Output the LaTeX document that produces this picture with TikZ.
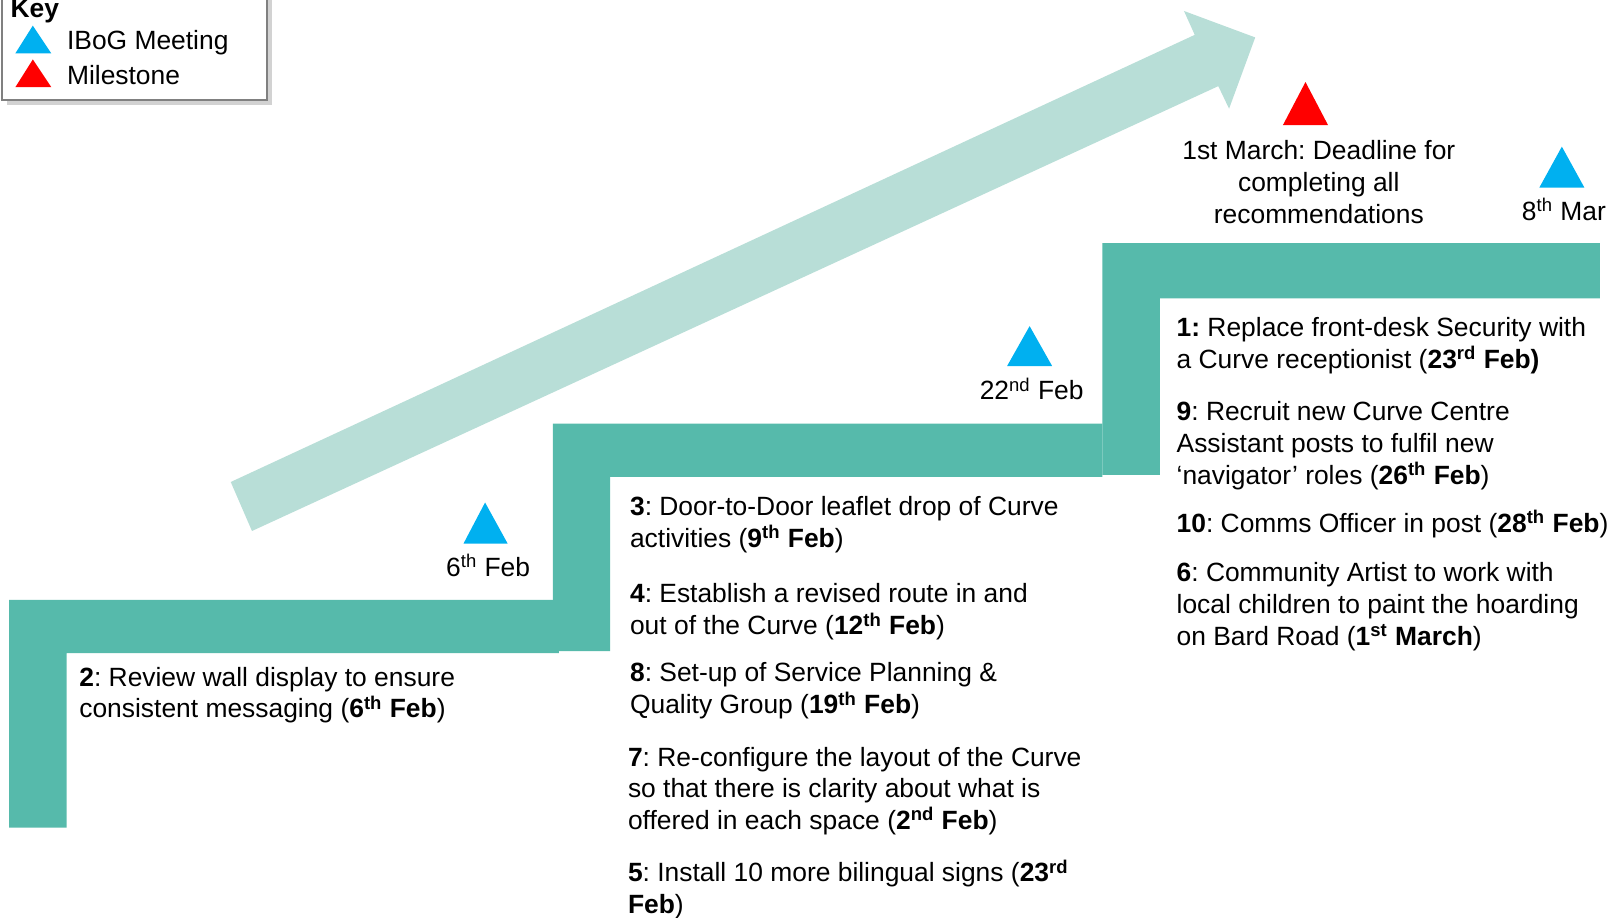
\documentclass[tikz,border=0pt]{standalone}
\usepackage{fontspec}
\setmainfont{Liberation Sans}
\usetikzlibrary{shadows}
\definecolor{stepgreen}{HTML}{56BAAB}
\definecolor{arrowgreen}{HTML}{B8DED7}
\definecolor{meetblue}{HTML}{00B0F0}
\definecolor{milered}{HTML}{FF0000}
\frenchspacing

\begin{document}
\begin{tikzpicture}[x=0.51275pt, y=-0.51275pt,
    item/.style={anchor=base west, inner sep=0pt, align=left, font=\fontsize{13.2}{15.9}\selectfont},
    datelbl/.style={anchor=base, inner sep=0pt, align=center, font=\fontsize{13.2}{15.9}\selectfont}]
  \useasboundingbox (0,0) rectangle (1568,894.2);

  % rising arrow
  \fill[arrowgreen] (225,470) -- (1165,34) -- (1154.5,10.7) -- (1224,36.5) -- (1198.5,106) -- (1188,84) -- (245.7,517.8) -- cycle;

  % steps
  \fill[stepgreen] (9,807) -- (9,585) -- (545,585) -- (545,637) -- (65,637) -- (65,807) -- cycle;
  \fill[stepgreen] (539,635) -- (539,413) -- (1075,413) -- (1075,465) -- (595,465) -- (595,635) -- cycle;
  \fill[stepgreen] (1075,463) -- (1075,237) -- (1560,237) -- (1560,291) -- (1131,291) -- (1131,463) -- cycle;

  % key
  \draw[draw=black!50, line width=1pt, fill=white,
        drop shadow={shadow xshift=2.5pt, shadow yshift=-2.5pt, fill=black!35}] (2,-20) rectangle (260,98);
  \node[item, font=\fontsize{13.2}{15.9}\selectfont\bfseries] (keytitle) at (10,17) {Key};
  \fill[meetblue] (15,52) -- (32,25) -- (50,52) -- cycle;
  \fill[milered] (15,85) -- (32,58) -- (50,85) -- cycle;
  \node[item] (keymeet) at (65,48) {IBoG Meeting};
  \node[item] (keymile) at (65,82) {Milestone};

  % meetings and milestone
  \fill[meetblue] (452,530) -- (473,490) -- (495,530) -- cycle;
  \node[datelbl] (feb6) at (476,562) {6\textsuperscript{th} Feb};
  \fill[meetblue] (982,357) -- (1004,318) -- (1026,357) -- cycle;
  \node[datelbl] (feb22) at (1006,390) {22\textsuperscript{nd} Feb};
  \fill[meetblue] (1501,183) -- (1523,143) -- (1545,183) -- cycle;
  \node[datelbl] (mar8) at (1525,215) {8\textsuperscript{th} Mar};
  \fill[milered] (1251,122) -- (1273,80) -- (1295,122) -- cycle;
  \node[datelbl] (deadline) at (1286,218) {1st March: Deadline for\\completing all\\recommendations};

  % step 1
  \node[item] (rec2) at (77,700) {\textbf{2}: Review wall display to ensure\\consistent messaging (\textbf{6\textsuperscript{th} Feb})};

  % step 2
  \node[item] (rec3) at (614,534) {\textbf{3}: Door-to-Door leaflet drop of Curve\\activities (\textbf{9\textsuperscript{th} Feb})};
  \node[item] (rec4) at (614,619) {\textbf{4}: Establish a revised route in and\\out of the Curve (\textbf{12\textsuperscript{th} Feb})};
  \node[item] (rec8) at (614,696) {\textbf{8}: Set-up of Service Planning \&\\Quality Group (\textbf{19\textsuperscript{th} Feb})};
  \node[item] (rec7) at (612,809) {\textbf{7}: Re-configure the layout of the Curve\\so that there is clarity about what is\\offered in each space (\textbf{2\textsuperscript{nd} Feb})};
  \node[item] (rec5) at (612,891) {\textbf{5}: Install 10 more bilingual signs (\textbf{23\textsuperscript{rd}}\\\textbf{Feb})};

  % step 3
  \node[item] (rec1) at (1147,359) {\textbf{1:} Replace front-desk Security with\\a Curve receptionist (\textbf{23\textsuperscript{rd} Feb)}};
  \node[item] (rec9) at (1147,472) {\textbf{9}: Recruit new Curve Centre\\Assistant posts to fulfil new\\‘navigator’ roles (\textbf{26\textsuperscript{th} Feb})};
  \node[item] (rec10) at (1147,519) {\textbf{10}: Comms Officer in post (\textbf{28\textsuperscript{th} Feb})};
  \node[item] (rec6) at (1147,629) {\textbf{6}: Community Artist to work with\\local children to paint the hoarding\\on Bard Road (\textbf{1\textsuperscript{st} March})};
\end{tikzpicture}
\end{document}
